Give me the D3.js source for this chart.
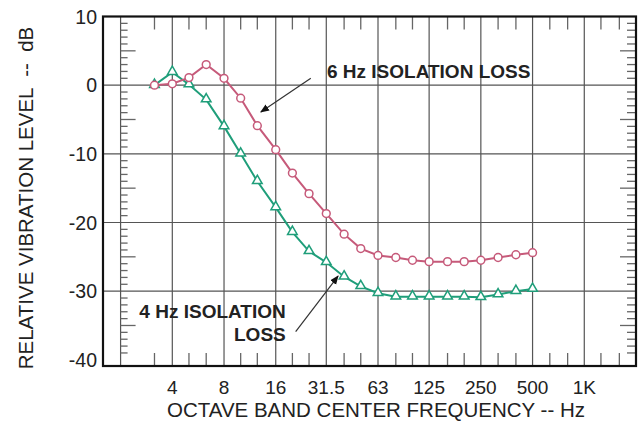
<!DOCTYPE html>
<html>
<head>
<meta charset="utf-8">
<script src="https://cdn.jsdelivr.net/npm/d3@7"></script>
<style>
  body { margin: 0; background: #fff; }
  text { font-family: "Liberation Sans", Arial, sans-serif; fill: #222; white-space: pre; }
</style>
</head>
<body>
<div id="chart"></div>
<script>
// third-octave band centres where the curves were measured
var bandFreqs = [3.15, 4, 5, 6.3, 8, 10, 12.5, 16, 20, 25, 31.5, 40, 50, 63, 80, 100, 125, 160, 200, 250, 315, 400, 500];
var loss6Hz = [0, 0.2, 1.1, 3.0, 1.0, -1.9, -5.9, -9.4, -12.8, -15.8, -18.7, -21.7, -23.8, -24.8, -25.1, -25.5, -25.7, -25.7, -25.7, -25.5, -25.1, -24.7, -24.4];
var loss4Hz = [0, 1.9, 0.1, -2.1, -6.0, -10.0, -14.0, -17.8, -21.4, -24.2, -25.8, -27.9, -29.3, -30.3, -30.8, -30.8, -30.8, -30.8, -30.8, -30.9, -30.5, -30.0, -29.7];

var octaveTicks = [4, 8, 16, 31.5, 63, 125, 250, 500, 1000];
var octaveLabels = ['4', '8', '16', '31.5', '63', '125', '250', '500', '1K'];
var thirdTicks = [3.15, 5, 6.3, 10, 12.5, 20, 25, 40, 50, 80, 100, 160, 200, 315, 400, 630, 800, 1250, 1600];
var yTicks = [10, 0, -10, -20, -30, -40];
var yGrid = [0, -10, -20, -30];

var width = 643, height = 423;
var plotL = 103, plotR = 636, plotT = 16.5, plotB = 366;

var svg = d3.select('#chart').append('svg')
  .attr('width', width)
  .attr('height', height);

var x = d3.scaleLog().base(2)
  .domain([1.58, 2000])
  .range([plotL, plotR]);

var y = d3.scaleLinear()
  .domain([-40.9, 10])
  .range([plotB, plotT]);

var gridColor = '#555';

// vertical grid lines (2 Hz line carries the left ruler)
svg.selectAll('.vgrid')
  .data([2].concat(octaveTicks))
  .enter().append('line')
  .attr('x1', d => x(d)).attr('x2', d => x(d))
  .attr('y1', plotT).attr('y2', plotB)
  .attr('stroke', gridColor).attr('stroke-width', 1.2);

svg.selectAll('.hgrid')
  .data(yGrid)
  .enter().append('line')
  .attr('x1', plotL).attr('x2', plotR)
  .attr('y1', d => y(d)).attr('y2', d => y(d))
  .attr('stroke', gridColor).attr('stroke-width', 1.2);

// 1 dB rulers
var dbSteps = d3.range(-40, 10, 1).filter(d => d % 10 !== 0);
svg.selectAll('.lruler')
  .data(dbSteps)
  .enter().append('line')
  .attr('x1', x(2)).attr('x2', d => x(2) + (d % 5 === 0 ? 15 : 7))
  .attr('y1', d => y(d)).attr('y2', d => y(d))
  .attr('stroke', '#666').attr('stroke-width', 1.3);

svg.selectAll('.rruler')
  .data(dbSteps)
  .enter().append('line')
  .attr('x1', plotR).attr('x2', d => plotR - (d % 5 === 0 ? 16 : 9))
  .attr('y1', d => y(d)).attr('y2', d => y(d))
  .attr('stroke', '#666').attr('stroke-width', 1.3);

// third-octave ticks top and bottom
svg.selectAll('.ttick')
  .data(thirdTicks)
  .enter().append('line')
  .attr('x1', d => x(d)).attr('x2', d => x(d))
  .attr('y1', plotT).attr('y2', plotT + 13)
  .attr('stroke', '#666').attr('stroke-width', 1.3);

svg.selectAll('.btick')
  .data(thirdTicks)
  .enter().append('line')
  .attr('x1', d => x(d)).attr('x2', d => x(d))
  .attr('y1', plotB).attr('y2', plotB - 13)
  .attr('stroke', '#666').attr('stroke-width', 1.3);

// frame
svg.append('rect')
  .attr('x', plotL).attr('y', plotT)
  .attr('width', plotR - plotL).attr('height', plotB - plotT)
  .attr('fill', 'none').attr('stroke', '#111').attr('stroke-width', 2.2);

// tick labels
svg.selectAll('.ylab')
  .data(yTicks)
  .enter().append('text')
  .attr('x', 97).attr('y', d => y(d))
  .attr('dy', '0.36em')
  .attr('text-anchor', 'end')
  .style('font-size', '19.5px')
  .text(d => d);

svg.selectAll('.xlab')
  .data(octaveTicks)
  .enter().append('text')
  .attr('x', d => x(d)).attr('y', 394)
  .attr('text-anchor', 'middle')
  .style('font-size', '19px')
  .text((d, i) => octaveLabels[i]);

svg.append('text')
  .attr('x', 376).attr('y', 417)
  .attr('text-anchor', 'middle')
  .style('font-size', '20.5px')
  .text('OCTAVE BAND CENTER FREQUENCY -- Hz');

svg.append('text')
  .attr('transform', 'translate(33,198) rotate(-90)')
  .attr('text-anchor', 'middle')
  .style('font-size', '20.5px')
  .text('RELATIVE VIBRATION LEVEL  --  dB');

// curves
var pink = '#c65a7a', green = '#1f9e7a';

function series(vals) {
  return bandFreqs.map((f, i) => ({ f: f, v: vals[i] }));
}

var line = d3.line()
  .x(d => x(d.f))
  .y(d => y(d.v));

svg.append('path')
  .datum(series(loss4Hz))
  .attr('d', line)
  .attr('fill', 'none').attr('stroke', green).attr('stroke-width', 2);

svg.append('path')
  .datum(series(loss6Hz))
  .attr('d', line)
  .attr('fill', 'none').attr('stroke', pink).attr('stroke-width', 2);

var tri = d3.symbol().type(d3.symbolTriangle).size(40);
svg.selectAll('.tri')
  .data(series(loss4Hz))
  .enter().append('path')
  .attr('d', tri)
  .attr('transform', d => 'translate(' + x(d.f) + ',' + (y(d.v) - 0.5) + ')')
  .attr('fill', '#fff').attr('stroke', green).attr('stroke-width', 1.5);

svg.selectAll('.circ')
  .data(series(loss6Hz))
  .enter().append('circle')
  .attr('cx', d => x(d.f)).attr('cy', d => y(d.v))
  .attr('r', 3.9)
  .attr('fill', '#fff').attr('stroke', pink).attr('stroke-width', 1.5);

// annotations with arrows
svg.append('defs').append('marker')
  .attr('id', 'arrow')
  .attr('viewBox', '0 0 10 10')
  .attr('refX', 9).attr('refY', 5)
  .attr('markerWidth', 9).attr('markerHeight', 9)
  .attr('markerUnits', 'userSpaceOnUse')
  .attr('orient', 'auto')
  .append('path')
  .attr('d', 'M0,1 L10,5 L0,9 Z')
  .attr('fill', '#111');

svg.append('line')
  .attr('x1', x(25.6)).attr('y1', y(1.0))
  .attr('x2', x(13.1)).attr('y2', y(-3.9))
  .attr('stroke', '#333').attr('stroke-width', 1.2)
  .attr('marker-end', 'url(#arrow)');

svg.append('line')
  .attr('x1', x(20.9)).attr('y1', y(-35.9))
  .attr('x2', x(36.9)).attr('y2', y(-27.8))
  .attr('stroke', '#333').attr('stroke-width', 1.2)
  .attr('marker-end', 'url(#arrow)');

svg.append('text')
  .attr('x', x(31.8)).attr('y', y(1.0))
  .style('font-size', '19px').style('font-weight', 'bold')
  .text('6 Hz ISOLATION LOSS');

svg.append('text')
  .attr('x', x(18.3)).attr('y', y(-33.9))
  .attr('text-anchor', 'end')
  .style('font-size', '19px').style('font-weight', 'bold')
  .text('4 Hz ISOLATION');

svg.append('text')
  .attr('x', x(18.3)).attr('y', y(-37.3))
  .attr('text-anchor', 'end')
  .style('font-size', '19px').style('font-weight', 'bold')
  .text('LOSS');
</script>
</body>
</html>
